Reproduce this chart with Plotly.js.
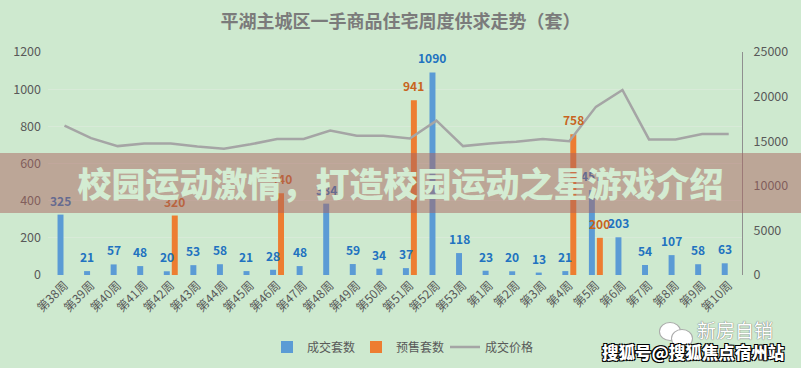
<!DOCTYPE html>
<html>
<head>
<meta charset="utf-8">
<script src="https://cdn.plot.ly/plotly-3.0.1.min.js"></script>
<style>
  html, body { margin:0; padding:0; background:#cee9cf; }
  #wrap { position:relative; width:801px; height:368px; overflow:hidden; }
  #chart { width:801px; height:368px; }
  #band { position:absolute; left:0; top:153px; width:801px; height:60px;
    background:rgba(169,100,96,0.5); display:flex; align-items:center; justify-content:center;
    font-family:"Noto Sans CJK SC"; font-weight:900; font-size:34px; color:#d3ecd2;
    letter-spacing:0px; line-height:60px; }
  #wm1 { position:absolute; left:697px; top:318px; font-family:"Noto Sans CJK SC"; font-size:19px;
    color:#ffffff; text-shadow:0 0 1px #777, 0 0 1px #777; line-height:24px; }
  #wm2 { position:absolute; left:602px; top:340px; font-family:"Noto Sans CJK SC"; font-weight:900; font-size:16.5px;
    color:#ffffff; text-shadow:1px 1px 0 #000, -1px -1px 0 #000, 1px -1px 0 #000, -1px 1px 0 #000; line-height:24px; }
  .ic { position:absolute; border-radius:50%; background:#fff; border:1px solid #aaa; }
</style>
</head>
<body>
<div id="wrap">
<div id="chart"></div>
<div id="band">校园运动激情，打造校园运动之星游戏介绍</div>
<div class="ic" style="left:659px;top:322px;width:20px;height:17px;"></div>
<div class="ic" style="left:671px;top:329px;width:20px;height:17px;"></div>
<div id="wm1">新房自销</div>
<div id="wm2">搜狐号@搜狐焦点宿州站</div>
</div>
<script>
const weeks = ['第38周','第39周','第40周','第41周','第42周','第43周','第44周','第45周','第46周','第47周','第48周','第49周','第50周','第51周','第52周','第53周','第1周','第2周','第3周','第4周','第5周','第6周','第7周','第8周','第9周','第10周'];
const deals = [325,21,57,48,20,53,58,21,28,48,384,59,34,37,1090,118,23,20,13,21,457,203,54,107,58,63];
const presale = [null,null,null,null,320,null,null,null,440,null,null,null,null,941,null,null,null,null,null,758,200,null,null,null,null,null];
const price = [16750,15350,14450,14750,14750,14400,14150,14650,15250,15250,16200,15600,15600,15300,17300,14450,14750,14950,15250,15000,18850,20750,15200,15200,15800,15800];

const FONT = '"Noto Sans CJK SC", "Noto Sans", sans-serif';
const BLUE = '#5b9bd5', ORANGE = '#ed7d31', GRAY = '#a5a5a5';

const traces = [
  {type:'bar', name:'成交套数', x:weeks, y:deals, marker:{color:BLUE}, hoverinfo:'skip'},
  {type:'bar', name:'预售套数', x:weeks, y:presale, marker:{color:ORANGE}, hoverinfo:'skip'},
  {type:'scatter', mode:'lines', name:'成交价格', x:weeks, y:price, yaxis:'y2',
   line:{color:GRAY, width:2.5}, hoverinfo:'skip'}
];

const annotations = [];
weeks.forEach((w,i)=>{
  if (deals[i] != null) annotations.push({x:w, y:deals[i], xref:'x', yref:'y', text:String(deals[i]),
    showarrow:false, xshift:-4, yshift:14.5, yanchor:'middle',
    font:{family:FONT, size:12, color:'#2172c0', weight:'bold'}});
  if (presale[i] != null) annotations.push({x:w, y:presale[i], xref:'x', yref:'y', text:String(presale[i]),
    showarrow:false, xshift:4, yshift:14.5, yanchor:'middle',
    font:{family:FONT, size:12, color:'#c8641e', weight:'bold'}});
});

const layout = {
  width:801, height:368,
  margin:{l:48, r:59, t:52, b:93, pad:0},
  paper_bgcolor:'#cee9cf', plot_bgcolor:'#cee9cf',
  font:{family:FONT, size:12, color:'#595959'},
  title:{text:'平湖主城区一手商品住宅周度供求走势（套）', x:0.5, xref:'container', y:0.94, yref:'container', yanchor:'middle',
    font:{family:FONT, size:18, color:'#7b7b7b', weight:'bold'}},
  barmode:'group', bargap:0.4, bargroupgap:0.25,
  xaxis:{type:'category', tickangle:-45, showgrid:false, showline:false, zeroline:false, ticks:'',
    tickfont:{family:FONT, size:12, color:'#595959'}},
  yaxis:{range:[0,1200], dtick:200, showgrid:true, gridcolor:'#d8ead8', zeroline:false, showline:false, ticks:'',
    ticklabelstandoff:6, tickformat:'d', tickfont:{family:FONT, size:12.5, color:'#595959'}},
  yaxis2:{range:[0,25000], dtick:5000, overlaying:'y', side:'right', showgrid:false, zeroline:false,
    showline:true, linecolor:'#8f8f8f', linewidth:1, ticks:'', ticklabelstandoff:8, tickformat:'d',
    tickfont:{family:FONT, size:12.5, color:'#595959'}},
  legend:{orientation:'h', x:0.5, xref:'container', xanchor:'center', y:0.057, yref:'container', yanchor:'middle',
    entrywidth:44, entrywidthmode:'pixels',
    font:{family:FONT, size:12, color:'#595959'}, bgcolor:'rgba(0,0,0,0)'},
  showlegend:true,
  annotations:annotations
};

Plotly.newPlot('chart', traces, layout, {displayModeBar:false, staticPlot:true});
</script>
</body>
</html>
